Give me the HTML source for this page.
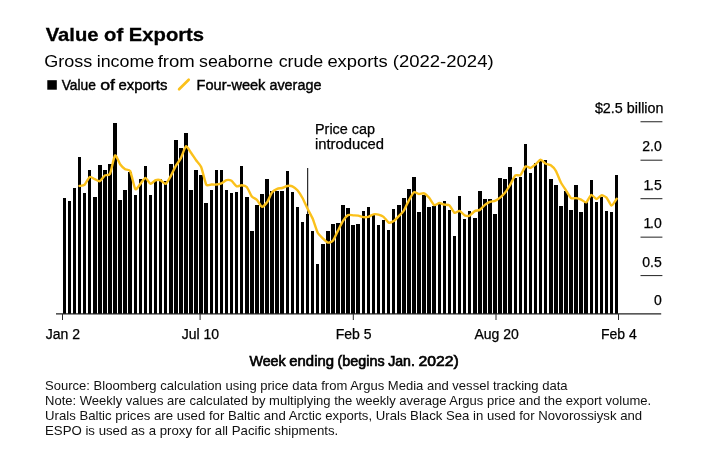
<!DOCTYPE html>
<html><head><meta charset="utf-8"><title>Value of Exports</title>
<style>
html,body{margin:0;padding:0;background:#fff;}
body{width:709px;height:450px;overflow:hidden;}
svg{display:block;will-change:transform;opacity:0.999}
text{font-family:"Liberation Sans",Arial,Helvetica,sans-serif;fill:#000;}
.title{font-size:18.6px;font-weight:bold;stroke:#000;stroke-width:0.3px;}
.sub{font-size:16px;}
.leg{font-size:14px;stroke:#000;stroke-width:0.4px;}
.ax{font-size:14px;stroke:#000;stroke-width:0.25px;}
.axt{font-size:14.3px;stroke:#000;stroke-width:0.65px;}
.note{font-size:13px;fill:#111;}
</style></head><body>
<svg width="709" height="450" viewBox="0 0 709 450">
<rect width="709" height="450" fill="#fff"/>
<text x="45.7" y="40.6" class="title" textLength="158.4" lengthAdjust="spacingAndGlyphs">Value of Exports</text>
<text y="66.5" class="sub"><tspan x="44.3" textLength="48.0" lengthAdjust="spacingAndGlyphs">Gross</tspan> <tspan x="96.7" textLength="57.5" lengthAdjust="spacingAndGlyphs">income</tspan> <tspan x="157.7" textLength="37.1" lengthAdjust="spacingAndGlyphs">from</tspan> <tspan x="199.0" textLength="74.1" lengthAdjust="spacingAndGlyphs">seaborne</tspan> <tspan x="278.7" textLength="44.6" lengthAdjust="spacingAndGlyphs">crude</tspan> <tspan x="327.4" textLength="60.2" lengthAdjust="spacingAndGlyphs">exports</tspan> <tspan x="392.8" textLength="100.8" lengthAdjust="spacingAndGlyphs">(2022-2024)</tspan></text>
<rect x="47.3" y="80.2" width="9.5" height="9.5" fill="#000"/>
<text y="89.7" class="leg"><tspan x="61.7" textLength="34.2" lengthAdjust="spacingAndGlyphs">Value</tspan> <tspan x="100.2" textLength="14.8" lengthAdjust="spacingAndGlyphs">of</tspan> <tspan x="118.6" textLength="48.8" lengthAdjust="spacingAndGlyphs">exports</tspan></text>
<line x1="179.1" y1="89.2" x2="188.7" y2="79.7" stroke="#fbc11b" stroke-width="2.7" stroke-linecap="round"/>
<text y="89.7" class="leg"><tspan x="196.6" textLength="68.8" lengthAdjust="spacingAndGlyphs">Four-week</tspan> <tspan x="269.4" textLength="52.0" lengthAdjust="spacingAndGlyphs">average</tspan></text>
<g fill="#000" shape-rendering="crispEdges">
<rect x="63" y="198" width="3" height="116"/>
<rect x="68" y="201" width="3" height="113"/>
<rect x="73" y="188" width="3" height="126"/>
<rect x="78" y="157" width="3" height="157"/>
<rect x="83" y="193" width="3" height="121"/>
<rect x="88" y="170" width="3" height="144"/>
<rect x="93" y="197" width="4" height="117"/>
<rect x="98" y="165" width="4" height="149"/>
<rect x="103" y="170" width="4" height="144"/>
<rect x="108" y="164" width="4" height="150"/>
<rect x="113" y="123" width="4" height="191"/>
<rect x="118" y="200" width="4" height="114"/>
<rect x="123" y="190" width="4" height="124"/>
<rect x="128" y="172" width="4" height="142"/>
<rect x="134" y="195" width="3" height="119"/>
<rect x="139" y="179" width="3" height="135"/>
<rect x="144" y="166" width="3" height="148"/>
<rect x="149" y="195" width="3" height="119"/>
<rect x="154" y="181" width="3" height="133"/>
<rect x="159" y="179" width="3" height="135"/>
<rect x="164" y="181" width="3" height="133"/>
<rect x="169" y="164" width="4" height="150"/>
<rect x="174" y="140" width="4" height="174"/>
<rect x="179" y="148" width="4" height="166"/>
<rect x="184" y="133" width="4" height="181"/>
<rect x="189" y="190" width="4" height="124"/>
<rect x="194" y="170" width="4" height="144"/>
<rect x="199" y="175" width="4" height="139"/>
<rect x="204" y="203" width="4" height="111"/>
<rect x="210" y="190" width="3" height="124"/>
<rect x="215" y="170" width="3" height="144"/>
<rect x="220" y="170" width="3" height="144"/>
<rect x="225" y="190" width="3" height="124"/>
<rect x="230" y="193" width="3" height="121"/>
<rect x="235" y="192" width="3" height="122"/>
<rect x="240" y="166" width="3" height="148"/>
<rect x="245" y="197" width="4" height="117"/>
<rect x="250" y="231" width="4" height="83"/>
<rect x="255" y="205" width="4" height="109"/>
<rect x="260" y="194" width="4" height="120"/>
<rect x="265" y="179" width="4" height="135"/>
<rect x="270" y="191" width="4" height="123"/>
<rect x="275" y="191" width="4" height="123"/>
<rect x="280" y="191" width="4" height="123"/>
<rect x="286" y="171" width="3" height="143"/>
<rect x="291" y="192" width="3" height="122"/>
<rect x="296" y="207" width="3" height="107"/>
<rect x="301" y="222" width="3" height="92"/>
<rect x="306" y="214" width="3" height="100"/>
<rect x="311" y="231" width="3" height="83"/>
<rect x="316" y="264" width="3" height="50"/>
<rect x="321" y="244" width="4" height="70"/>
<rect x="326" y="231" width="4" height="83"/>
<rect x="331" y="224" width="4" height="90"/>
<rect x="336" y="223" width="4" height="91"/>
<rect x="341" y="205" width="4" height="109"/>
<rect x="346" y="208" width="4" height="106"/>
<rect x="351" y="225" width="4" height="89"/>
<rect x="356" y="224" width="4" height="90"/>
<rect x="362" y="211" width="3" height="103"/>
<rect x="367" y="207" width="3" height="107"/>
<rect x="372" y="215" width="3" height="99"/>
<rect x="377" y="225" width="3" height="89"/>
<rect x="382" y="220" width="3" height="94"/>
<rect x="387" y="230" width="3" height="84"/>
<rect x="392" y="209" width="3" height="105"/>
<rect x="397" y="205" width="4" height="109"/>
<rect x="402" y="198" width="4" height="116"/>
<rect x="407" y="189" width="4" height="125"/>
<rect x="412" y="177" width="4" height="137"/>
<rect x="417" y="212" width="4" height="102"/>
<rect x="422" y="195" width="4" height="119"/>
<rect x="427" y="207" width="4" height="107"/>
<rect x="432" y="206" width="4" height="108"/>
<rect x="438" y="204" width="3" height="110"/>
<rect x="443" y="201" width="3" height="113"/>
<rect x="448" y="210" width="3" height="104"/>
<rect x="453" y="236" width="3" height="78"/>
<rect x="458" y="196" width="3" height="118"/>
<rect x="463" y="219" width="3" height="95"/>
<rect x="468" y="211" width="3" height="103"/>
<rect x="473" y="218" width="4" height="96"/>
<rect x="478" y="191" width="4" height="123"/>
<rect x="483" y="199" width="4" height="115"/>
<rect x="488" y="199" width="4" height="115"/>
<rect x="493" y="214" width="4" height="100"/>
<rect x="498" y="178" width="4" height="136"/>
<rect x="503" y="179" width="4" height="135"/>
<rect x="508" y="167" width="4" height="147"/>
<rect x="514" y="178" width="3" height="136"/>
<rect x="519" y="177" width="3" height="137"/>
<rect x="524" y="144" width="3" height="170"/>
<rect x="529" y="173" width="3" height="141"/>
<rect x="534" y="163" width="3" height="151"/>
<rect x="539" y="159" width="3" height="155"/>
<rect x="544" y="160" width="3" height="154"/>
<rect x="549" y="179" width="4" height="135"/>
<rect x="554" y="185" width="4" height="129"/>
<rect x="559" y="206" width="4" height="108"/>
<rect x="564" y="191" width="4" height="123"/>
<rect x="569" y="210" width="4" height="104"/>
<rect x="574" y="185" width="4" height="129"/>
<rect x="579" y="212" width="4" height="102"/>
<rect x="584" y="202" width="4" height="112"/>
<rect x="590" y="180" width="3" height="134"/>
<rect x="595" y="202" width="3" height="112"/>
<rect x="600" y="197" width="3" height="117"/>
<rect x="605" y="211" width="3" height="103"/>
<rect x="610" y="212" width="3" height="102"/>
<rect x="615" y="175" width="3" height="139"/>
</g>
<line x1="56" x2="661.2" y1="313.85" y2="313.85" stroke="#222" stroke-width="1.05"/>
<line x1="640.5" x2="662.4" y1="121.75" y2="121.75" stroke="#222" stroke-width="1"/>
<text x="594.9" y="112.7" class="ax" textLength="68.6" lengthAdjust="spacingAndGlyphs">$2.5 billion</text>
<line x1="640.5" x2="662.4" y1="160.2" y2="160.2" stroke="#222" stroke-width="1"/>
<text x="661.8" y="151.1" text-anchor="end" class="ax">2.0</text>
<line x1="640.5" x2="662.4" y1="198.7" y2="198.7" stroke="#222" stroke-width="1"/>
<text x="661.8" y="189.6" text-anchor="end" class="ax">1<tspan dx="-1.3">.5</tspan></text>
<line x1="640.5" x2="662.4" y1="237.15" y2="237.15" stroke="#222" stroke-width="1"/>
<text x="661.8" y="228.1" text-anchor="end" class="ax">1<tspan dx="-1.3">.0</tspan></text>
<line x1="640.5" x2="662.4" y1="275.6" y2="275.6" stroke="#222" stroke-width="1"/>
<text x="661.8" y="266.5" text-anchor="end" class="ax">0.5</text>
<text x="661.8" y="304.9" text-anchor="end" class="ax">0</text>

<line x1="62.5" x2="62.5" y1="314" y2="320" stroke="#2a2a2a" stroke-width="1"/>
<text x="62.8" y="339.0" text-anchor="middle" class="ax">Jan 2</text>
<line x1="200.1" x2="200.1" y1="314" y2="320" stroke="#2a2a2a" stroke-width="1"/>
<text x="200.4" y="339.0" text-anchor="middle" class="ax">Jul 10</text>
<line x1="353.3" x2="353.3" y1="314" y2="320" stroke="#2a2a2a" stroke-width="1"/>
<text x="353.6" y="339.0" text-anchor="middle" class="ax">Feb 5</text>
<line x1="496.0" x2="496.0" y1="314" y2="320" stroke="#2a2a2a" stroke-width="1"/>
<text x="496.6" y="339.0" text-anchor="middle" class="ax">Aug 20</text>
<line x1="618.5" x2="618.5" y1="314" y2="320" stroke="#2a2a2a" stroke-width="1"/>
<text x="618.8" y="339.0" text-anchor="middle" class="ax">Feb 4</text>

<line x1="307.7" x2="307.7" y1="168" y2="313.8" stroke="#000" stroke-width="1"/>
<text x="315" y="133.6" class="ax" textLength="60" lengthAdjust="spacingAndGlyphs">Price cap</text>
<text x="315" y="148.6" class="ax" textLength="69" lengthAdjust="spacingAndGlyphs">introduced</text>
<path d="M79.55,185.93C80.06,185.81 83.61,185.64 84.62,184.75C85.63,183.86 88.67,177.58 89.69,177.03C90.70,176.47 93.74,178.78 94.75,179.20C95.77,179.61 98.81,181.56 99.82,181.18C100.83,180.79 103.88,176.10 104.89,175.38C105.90,174.65 108.94,175.87 109.96,173.88C110.97,171.88 114.01,156.42 115.02,155.45C116.04,154.48 119.08,162.80 120.09,164.18C121.10,165.55 124.14,168.53 125.16,169.22C126.17,169.92 129.21,169.11 130.22,171.10C131.24,173.09 134.28,187.82 135.29,189.10C136.30,190.38 139.34,185.00 140.36,183.88C141.37,182.75 144.41,177.89 145.42,177.88C146.44,177.86 149.48,183.51 150.49,183.75C151.50,183.99 154.55,180.60 155.56,180.25C156.57,179.90 159.61,179.89 160.63,180.25C161.64,180.61 164.68,184.29 165.69,183.88C166.71,183.46 169.75,177.93 170.76,176.12C171.77,174.32 174.81,167.68 175.83,165.88C176.84,164.07 179.88,160.09 180.89,158.12C181.91,156.16 184.95,146.79 185.96,146.25C186.97,145.71 190.01,151.35 191.03,152.75C192.04,154.15 195.08,158.84 196.09,160.28C197.11,161.71 200.15,164.62 201.16,167.05C202.17,169.48 205.22,182.80 206.23,184.55C207.24,186.30 210.28,184.55 211.30,184.55C212.31,184.55 215.35,184.68 216.36,184.55C217.38,184.43 220.42,183.75 221.43,183.30C222.44,182.85 225.48,180.30 226.50,180.05C227.51,179.80 230.55,180.18 231.56,180.80C232.58,181.42 235.62,185.83 236.63,186.28C237.64,186.72 240.68,185.20 241.70,185.28C242.71,185.35 245.75,185.90 246.76,187.03C247.78,188.15 250.82,195.27 251.83,196.55C252.84,197.83 255.89,198.78 256.90,199.80C257.91,200.82 260.95,206.53 261.97,206.78C262.98,207.03 266.02,203.75 267.03,202.30C268.05,200.85 271.09,193.63 272.10,192.28C273.11,190.92 276.15,189.20 277.17,188.78C278.18,188.35 281.22,188.30 282.23,188.03C283.25,187.75 286.29,186.20 287.30,186.03C288.31,185.85 291.35,185.85 292.37,186.28C293.38,186.70 296.42,189.10 297.43,190.28C298.45,191.45 301.49,196.18 302.50,198.03C303.51,199.87 306.56,206.70 307.57,208.75C308.58,210.80 311.62,216.12 312.64,218.53C313.65,220.93 316.69,230.82 317.70,232.80C318.72,234.78 321.76,237.34 322.77,238.32C323.78,239.30 326.82,242.35 327.84,242.60C328.85,242.85 331.89,242.05 332.90,240.85C333.92,239.65 336.96,232.60 337.97,230.60C338.98,228.60 342.02,222.40 343.04,220.85C344.05,219.30 347.09,215.65 348.10,215.10C349.12,214.55 352.16,215.30 353.17,215.35C354.18,215.40 357.23,215.42 358.24,215.60C359.25,215.78 362.29,216.97 363.31,217.10C364.32,217.22 367.36,217.12 368.37,216.85C369.39,216.57 372.43,214.57 373.44,214.35C374.45,214.12 377.49,214.35 378.51,214.60C379.52,214.85 382.56,216.05 383.57,216.85C384.59,217.65 387.63,222.17 388.64,222.60C389.65,223.03 392.69,221.75 393.71,221.10C394.72,220.45 397.76,217.15 398.77,216.10C399.79,215.05 402.83,212.15 403.84,210.57C404.85,209.00 407.90,202.13 408.91,200.30C409.92,198.47 412.96,192.90 413.98,192.28C414.99,191.65 418.03,193.93 419.04,194.03C420.06,194.12 423.10,192.90 424.11,193.28C425.12,193.65 428.16,196.62 429.18,197.80C430.19,198.98 433.23,204.55 434.24,205.07C435.26,205.60 438.30,203.12 439.31,203.07C440.32,203.03 443.36,204.37 444.38,204.60C445.39,204.83 448.43,204.53 449.44,205.35C450.46,206.17 453.50,212.30 454.51,212.85C455.52,213.40 458.57,210.60 459.58,210.85C460.59,211.10 463.63,214.88 464.65,215.35C465.66,215.82 468.70,216.03 469.71,215.60C470.73,215.17 473.77,211.67 474.78,211.10C475.79,210.53 478.83,210.47 479.85,209.85C480.86,209.22 483.90,205.65 484.91,204.85C485.93,204.05 488.97,202.25 489.98,201.85C490.99,201.45 494.03,201.28 495.05,200.85C496.06,200.42 499.10,198.42 500.11,197.60C501.13,196.78 504.17,193.90 505.18,192.60C506.19,191.30 509.24,186.29 510.25,184.57C511.26,182.86 514.30,176.37 515.32,175.43C516.33,174.49 519.37,176.08 520.38,175.18C521.40,174.27 524.44,167.12 525.45,166.40C526.46,165.68 529.50,168.14 530.52,167.93C531.53,167.72 534.57,165.12 535.58,164.30C536.60,163.49 539.64,159.83 540.65,159.78C541.66,159.72 544.70,163.22 545.72,163.78C546.73,164.33 549.77,164.57 550.78,165.28C551.80,165.98 554.84,169.07 555.85,170.80C556.86,172.53 559.91,180.62 560.92,182.57C561.93,184.53 564.97,188.80 565.99,190.35C567.00,191.90 570.04,197.32 571.05,198.10C572.07,198.88 575.11,197.95 576.12,198.10C577.13,198.25 580.17,199.17 581.19,199.60C582.20,200.03 585.24,202.83 586.25,202.35C587.27,201.87 590.31,195.15 591.32,194.82C592.33,194.50 595.37,199.02 596.39,199.07C597.40,199.12 600.44,195.47 601.45,195.32C602.47,195.17 605.51,196.55 606.52,197.57C607.53,198.60 610.58,205.47 611.59,205.60C612.60,205.72 616.15,199.50 616.66,198.82" fill="none" stroke="#fbc11b" stroke-width="2.4" stroke-linejoin="round" stroke-linecap="round"/>
<text y="365.6" class="axt"><tspan x="249.4" textLength="36.3" lengthAdjust="spacingAndGlyphs">Week</tspan> <tspan x="289.3" textLength="44.7" lengthAdjust="spacingAndGlyphs">ending</tspan> <tspan x="337.6" textLength="47.0" lengthAdjust="spacingAndGlyphs">(begins</tspan> <tspan x="388.2" textLength="26.7" lengthAdjust="spacingAndGlyphs">Jan.</tspan> <tspan x="418.5" textLength="40.3" lengthAdjust="spacingAndGlyphs">2022)</tspan></text>
<text x="45" y="389.8" class="note" textLength="522.6" lengthAdjust="spacingAndGlyphs">Source: Bloomberg calculation using price data from Argus Media and vessel tracking data</text>
<text x="45" y="405.0" class="note" textLength="606.2" lengthAdjust="spacingAndGlyphs">Note: Weekly values are calculated by multiplying the weekly average Argus price and the export volume.</text>
<text x="45" y="420.1" class="note" textLength="597.1" lengthAdjust="spacingAndGlyphs">Urals Baltic prices are used for Baltic and Arctic exports, Urals Black Sea in used for Novorossiysk and</text>
<text x="45" y="435.3" class="note" textLength="293.3" lengthAdjust="spacingAndGlyphs">ESPO is used as a proxy for all Pacific shipments.</text>
</svg>
</body></html>
